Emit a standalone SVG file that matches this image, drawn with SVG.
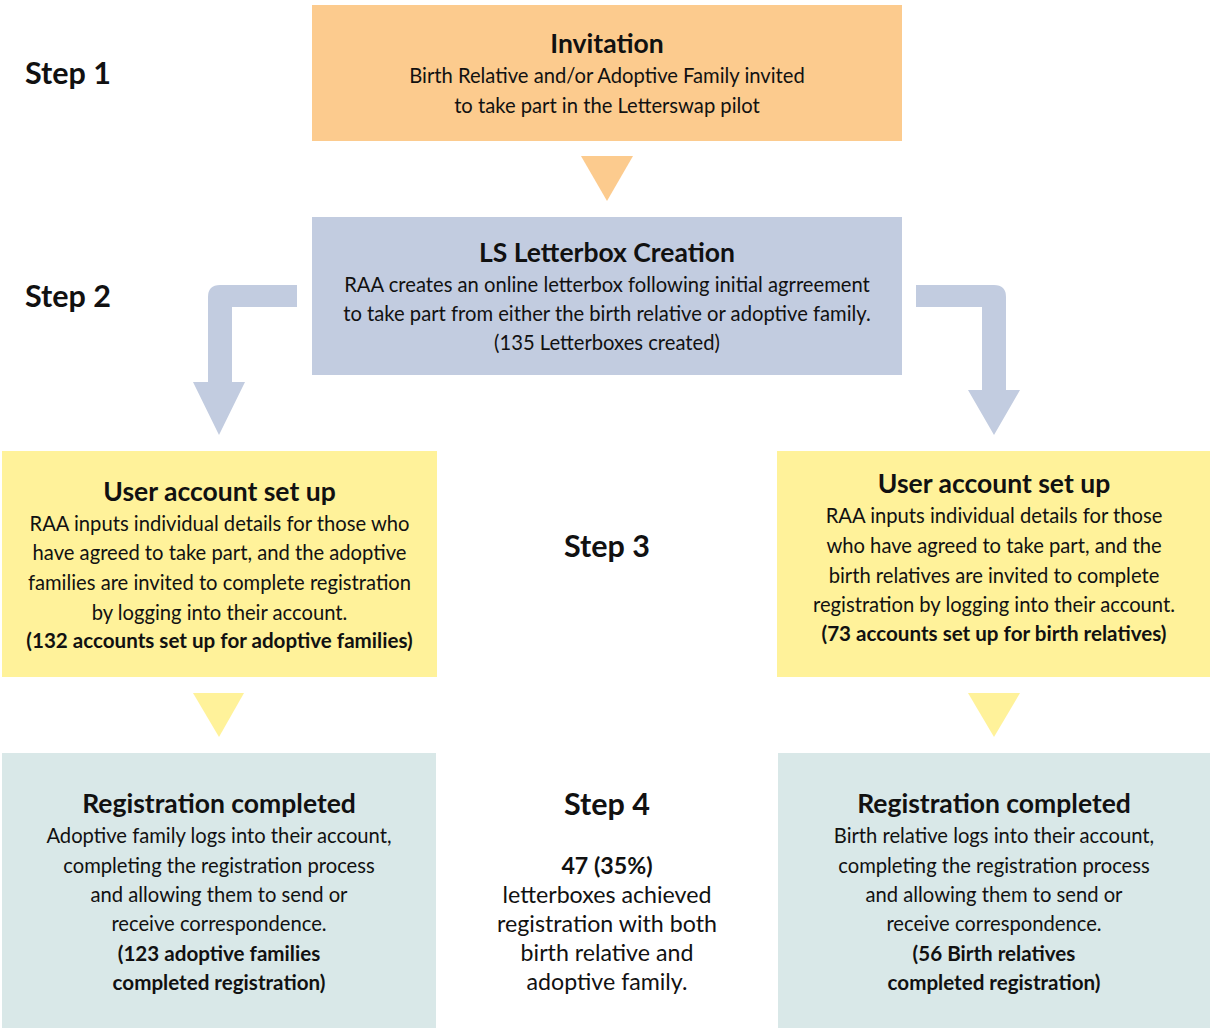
<svg xmlns="http://www.w3.org/2000/svg" width="1210" height="1028" viewBox="0 0 1210 1028">
<style>
text{font-family:Lato,"Liberation Sans",sans-serif;fill:#111;}
.t{font-size:26.5px;font-weight:bold;text-anchor:middle;}
.b{font-size:20.2px;text-anchor:middle;}
.bb{font-size:20.6px;font-weight:bold;text-anchor:middle;}
.s{font-size:30.5px;font-weight:bold;}
.c{font-size:23.2px;text-anchor:middle;}
</style>
<rect width="1210" height="1028" fill="#fff"/>
<g id="connectors">
<polygon points="581,156 633,156 607,201" fill="#FCCB8E"/>
<path d="M297,285 H220 Q208,285 208,297 V382 H193 L219,435 L245,382 H232 V307 H297 Z" fill="#C2CCE0"/>
<path d="M916,285 H994 Q1006,285 1006,297 V390 H1020 L994,435 L968,390 H982 V307 H916 Z" fill="#C2CCE0"/>
<polygon points="193,693 244,693 219,737" fill="#FFF29A"/>
<polygon points="968,693 1020,693 994,737" fill="#FFF29A"/>
</g>
<g id="step1"><text class="s" x="25" y="84">Step 1</text></g>
<g id="step2"><text class="s" x="25" y="307">Step 2</text></g>
<g id="step3"><text class="s" x="607" y="557" text-anchor="middle">Step 3</text></g>
<g id="invitation">
<rect x="312" y="5" width="590" height="136" fill="#FCCB8E"/>
<text class="t" x="607" y="53">Invitation</text>
<text class="b" x="607" y="83">Birth Relative and/or Adoptive Family invited</text>
<text class="b" x="607" y="113">to take part in the Letterswap pilot</text>
</g>
<g id="letterbox">
<rect x="312" y="217" width="590" height="158" fill="#C2CCE0"/>
<text class="t" x="607" y="262">LS Letterbox Creation</text>
<text class="b" x="607" y="292">RAA creates an online letterbox following initial agrreement</text>
<text class="b" x="607" y="321">to take part from either the birth relative or adoptive family.</text>
<text class="b" x="607" y="350">(135 Letterboxes created)</text>
</g>
<g id="user-left">
<rect x="2" y="451" width="435" height="226" fill="#FFF29A"/>
<text class="t" x="219.5" y="501">User account set up</text>
<text class="b" x="219.5" y="531">RAA inputs individual details for those who</text>
<text class="b" x="219.5" y="560">have agreed to take part, and the adoptive</text>
<text class="b" x="219.5" y="590">families are invited to complete registration</text>
<text class="b" x="219.5" y="620">by logging into their account.</text>
<text class="bb" x="219.5" y="648">(132 accounts set up for adoptive families)</text>
</g>
<g id="user-right">
<rect x="777" y="451" width="433" height="226" fill="#FFF29A"/>
<text class="t" x="994" y="493">User account set up</text>
<text class="b" x="994" y="523">RAA inputs individual details for those</text>
<text class="b" x="994" y="553">who have agreed to take part, and the</text>
<text class="b" x="994" y="583">birth relatives are invited to complete</text>
<text class="b" x="994" y="612">registration by logging into their account.</text>
<text class="bb" x="994" y="641">(73 accounts set up for birth relatives)</text>
</g>
<g id="reg-left">
<rect x="2" y="753" width="434" height="275" fill="#D9E8E8"/>
<text class="t" x="219" y="813">Registration completed</text>
<text class="b" x="219" y="843">Adoptive family logs into their account,</text>
<text class="b" x="219" y="873">completing the registration process</text>
<text class="b" x="219" y="902">and allowing them to send or</text>
<text class="b" x="219" y="931">receive correspondence.</text>
<text class="bb" x="219" y="961">(123 adoptive families</text>
<text class="bb" x="219" y="990">completed registration)</text>
</g>
<g id="step4">
<text class="s" x="607" y="815" text-anchor="middle">Step 4</text>
<text class="c" x="607" y="874" font-weight="bold">47 (35%)</text>
<text class="c" x="607" y="903">letterboxes achieved</text>
<text class="c" x="607" y="932">registration with both</text>
<text class="c" x="607" y="961">birth relative and</text>
<text class="c" x="607" y="990">adoptive family.</text>
</g>
<g id="reg-right">
<rect x="778" y="753" width="432" height="275" fill="#D9E8E8"/>
<text class="t" x="994" y="813">Registration completed</text>
<text class="b" x="994" y="843">Birth relative logs into their account,</text>
<text class="b" x="994" y="873">completing the registration process</text>
<text class="b" x="994" y="902">and allowing them to send or</text>
<text class="b" x="994" y="931">receive correspondence.</text>
<text class="bb" x="994" y="961">(56 Birth relatives</text>
<text class="bb" x="994" y="990">completed registration)</text>
</g>
</svg>
